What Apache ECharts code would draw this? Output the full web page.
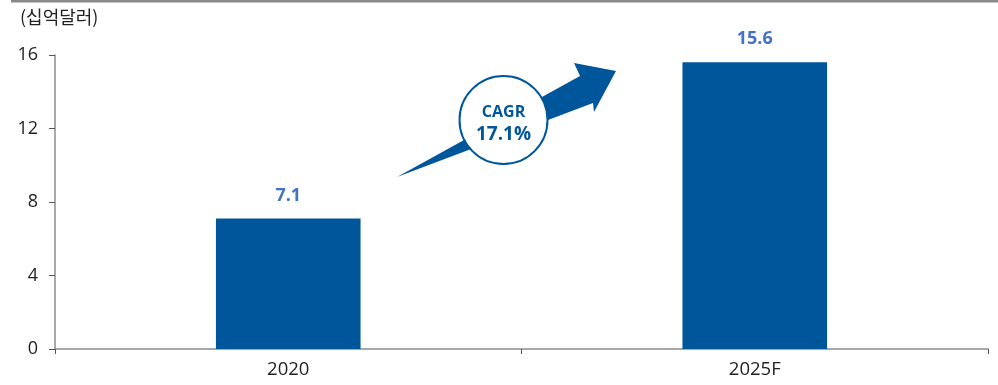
<!DOCTYPE html>
<html><head><meta charset="utf-8">
<script src="https://cdn.jsdelivr.net/npm/echarts@6/dist/echarts.min.js"></script>
<style>html,body{margin:0;padding:0;background:#fff}#c{width:998px;height:385px}</style>
</head><body><div id="c"></div>
<script>
const categories = ['2020', '2025F'];
const values = [7.1, 15.6];
const yTicks = [0, 4, 8, 12, 16];
const unitLabel = '(십억달러)';
const cagrTitle = 'CAGR';
const cagrValue = '17.1%';

const blue = '#00569b';
const chart = echarts.init(document.getElementById('c'));
chart.setOption({
  animation: false,
  grid: {left: 55, right: 10, top: 55, bottom: 36},
  xAxis: {
    type: 'category', data: categories,
    axisLine: {lineStyle: {color: '#8c8c8c', width: 1.5}},
    axisTick: {show: true, length: 5, lineStyle: {color: '#555'}},
    axisLabel: {color: '#222', fontSize: 18.5, fontFamily: 'Open Sans', margin: 11}
  },
  yAxis: {
    type: 'value', min: yTicks[0], max: yTicks[yTicks.length - 1], interval: 4,
    axisLine: {show: true, lineStyle: {color: '#8c8c8c', width: 1.5}},
    axisTick: {show: true, length: 6, lineStyle: {color: '#555'}},
    splitLine: {show: false},
    axisLabel: {color: '#222', fontSize: 18, fontFamily: 'Open Sans', margin: 17}
  },
  series: [{
    type: 'bar', data: values, barWidth: '31%',
    itemStyle: {color: blue},
    label: {show: true, position: 'top', distance: 14, color: '#4472c4',
      fontSize: 18, fontWeight: 'bold', fontFamily: 'Open Sans',
      formatter: p => p.value.toFixed(1)}
  }],
  graphic: [
    {type: 'rect', shape: {x: 11, y: 0, width: 987, height: 2.5}, style: {fill: '#888'}},
    {type: 'text', left: 20, top: 8, style: {text: unitLabel, fill: '#222', fontSize: 18, fontFamily: 'Noto Sans CJK KR'}},
    {type: 'polygon', shape: {points: [[397,177],[580,76],[574,63],[616,71],[594,112],[593,103]]}, style: {fill: blue}},
    {type: 'circle', shape: {cx: 503.5, cy: 120, r: 44}, style: {fill: '#fff', stroke: blue, lineWidth: 2}},
    {type: 'text', x: 503.5, y: 112, style: {text: cagrTitle, fill: blue, fontSize: 16, fontWeight: 'bold', fontFamily: 'Open Sans', align: 'center', verticalAlign: 'middle'}},
    {type: 'text', x: 503.5, y: 135, style: {text: cagrValue, fill: blue, fontSize: 19, fontWeight: 'bold', fontFamily: 'Open Sans', align: 'center', verticalAlign: 'middle'}}
  ]
});
</script></body></html>
